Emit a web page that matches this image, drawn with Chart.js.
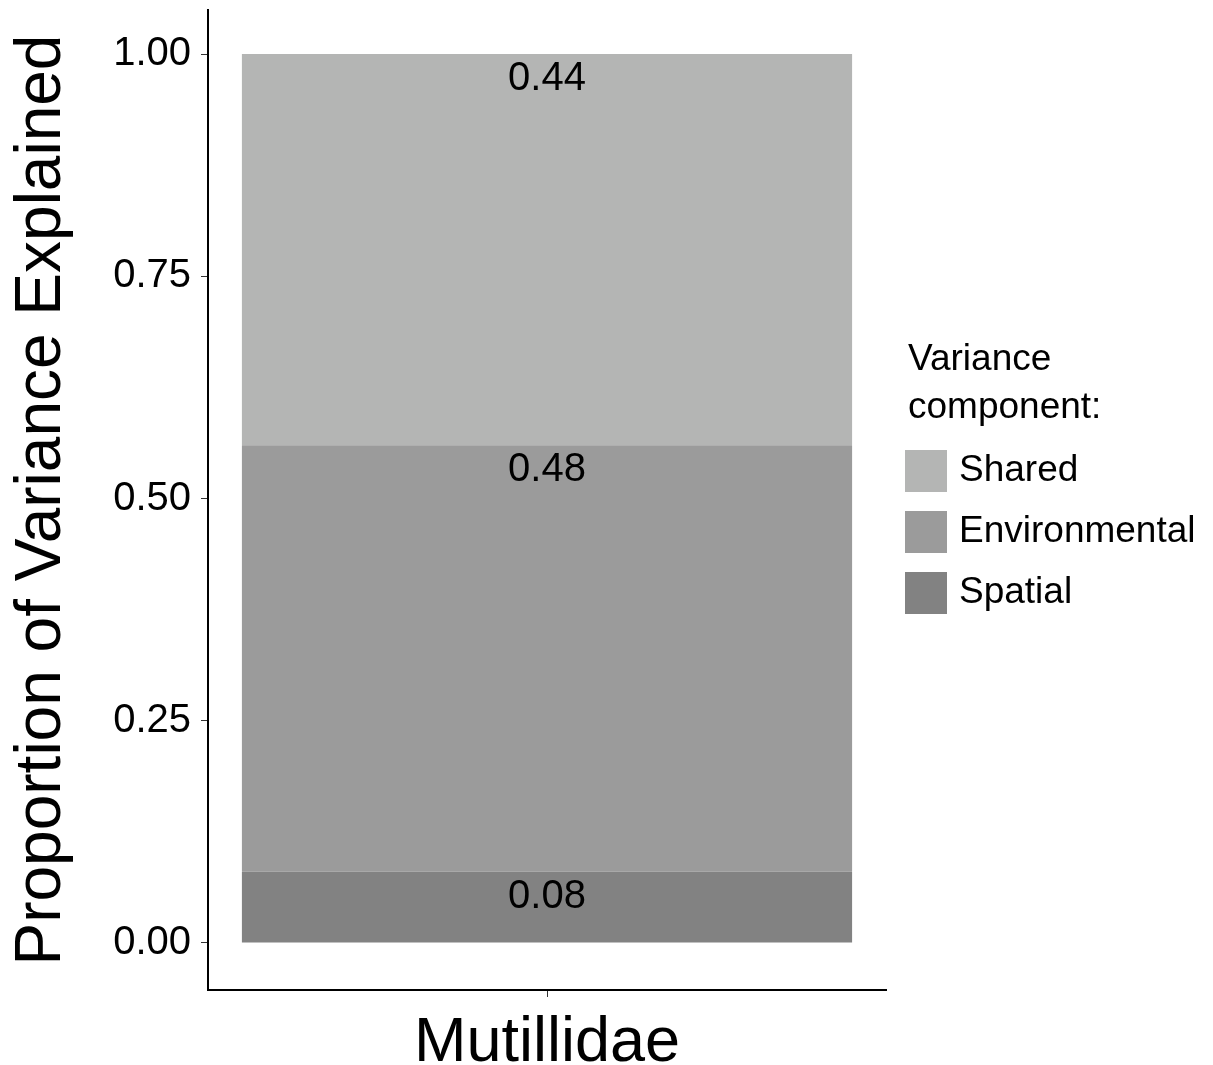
<!DOCTYPE html>
<html>
<head>
<meta charset="utf-8">
<script src="https://cdn.jsdelivr.net/npm/chart.js@4"></script>
<style>
  html, body { margin: 0; padding: 0; background: #fff; }
  #wrap { width: 1213px; height: 1065px; }
</style>
</head>
<body>
<div id="wrap"><canvas id="varChart" width="1213" height="1065"></canvas></div>
<script>
// --- Data ---
const categories = ["Mutillidae"];
const components = ["Spatial", "Environmental", "Shared"];   // bottom -> top
const spatialValues = [0.08];
const environmentalValues = [0.48];
const sharedValues = [0.44];
const yTicks = [0, 0.25, 0.5, 0.75, 1];

const colors = {
  Spatial: "#828282",
  Environmental: "#9b9b9b",
  Shared: "#b4b5b4"
};

const FONT = "'Liberation Sans', Arial, sans-serif";

// --- Segment labels, drawn near the top of each segment ---
const segmentLabels = {
  id: "segmentLabels",
  afterDatasetsDraw(chart) {
    const ctx = chart.ctx;
    ctx.save();
    ctx.font = "40px " + FONT;
    ctx.fillStyle = "#000";
    ctx.textAlign = "center";
    ctx.textBaseline = "middle";
    chart.data.datasets.forEach((ds, i) => {
      chart.getDatasetMeta(i).data.forEach((bar, j) => {
        ctx.fillText(ds.data[j].toFixed(2), bar.x, bar.y + 25);
      });
    });
    ctx.restore();
  }
};

// --- Legend on the right, ggplot style (top component first) ---
const sideLegend = {
  id: "sideLegend",
  afterDraw(chart) {
    const ctx = chart.ctx;
    const x = 905, key = 42, step = 61;
    ctx.save();
    ctx.fillStyle = "#000";
    ctx.font = "37px " + FONT;
    ctx.textAlign = "left";
    ctx.textBaseline = "middle";
    ctx.fillText("Variance", x + 3, 360);
    ctx.fillText("component:", x + 3, 408);
    const ordered = chart.data.datasets.slice().reverse();
    ordered.forEach((ds, i) => {
      const top = 450 + i * step;
      ctx.fillStyle = ds.backgroundColor;
      ctx.fillRect(x, top, key, key);
      ctx.fillStyle = "#000";
      ctx.fillText(ds.label, x + 54, top + key / 2);
    });
    ctx.restore();
  }
};

const ctx = document.getElementById("varChart").getContext("2d");

new Chart(ctx, {
  type: "bar",
  data: {
    labels: categories,
    datasets: [
      { label: "Spatial", data: spatialValues, backgroundColor: colors.Spatial },
      { label: "Environmental", data: environmentalValues, backgroundColor: colors.Environmental },
      { label: "Shared", data: sharedValues, backgroundColor: colors.Shared }
    ]
  },
  options: {
    responsive: false,
    animation: false,
    devicePixelRatio: 1,
    layout: { padding: { left: 0, right: 327, top: 10, bottom: 0 } },
    datasets: { bar: { categoryPercentage: 0.9, barPercentage: 1, borderWidth: 0 } },
    plugins: {
      legend: { display: false },
      tooltip: { enabled: false }
    },
    scales: {
      x: {
        stacked: true,
        offset: true,
        grid: { offset: false, drawOnChartArea: false, drawTicks: true, tickLength: 7, color: "#333" },
        border: { display: true, color: "#000", width: 2 },
        ticks: { color: "#000", font: { family: FONT, size: 63 }, padding: 9 },
        afterFit(scale) {
          scale.height = 75;
          scale.paddingLeft = 0;
          scale.paddingRight = 0;
        }
      },
      y: {
        stacked: true,
        min: -0.0529,
        max: 1.0495,
        afterBuildTicks(scale) { scale.ticks = yTicks.map(v => ({ value: v })); },
        grid: { drawOnChartArea: false, drawTicks: true, tickLength: 7, color: "#333" },
        border: { display: true, color: "#000", width: 2 },
        ticks: {
          color: "#000",
          font: { family: FONT, size: 40 },
          padding: 10,
          callback: v => v.toFixed(2)
        },
        title: {
          display: true,
          text: "Proportion of Variance Explained",
          color: "#000",
          font: { family: FONT, size: 64 },
          padding: { top: 4, bottom: 0 }
        },
        afterFit(scale) {
          scale.width = 208;
          scale.paddingTop = 0;
          scale.paddingBottom = 0;
        }
      }
    }
  },
  plugins: [segmentLabels, sideLegend]
});
</script>
</body>
</html>
